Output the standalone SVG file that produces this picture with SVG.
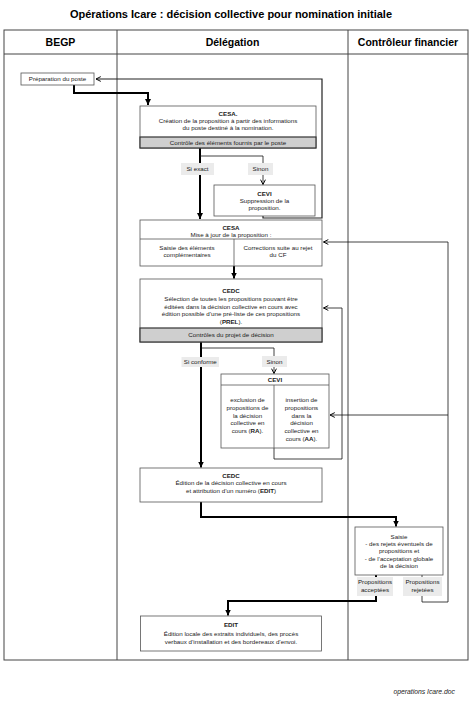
<svg xmlns="http://www.w3.org/2000/svg" width="472" height="705" viewBox="0 0 472 705">
<style>
text{font-family:"Liberation Sans",Arial,sans-serif;fill:#1a1a1a}
.t{font-size:6.2px;text-anchor:middle}
.b{font-weight:bold}
.h{font-size:10.5px;font-weight:bold;text-anchor:middle;fill:#000}
.ti{font-size:11px;font-weight:bold;text-anchor:middle;fill:#000}
.box{fill:#fff;stroke:#555;stroke-width:0.8}
.band{fill:#cfcfcf;stroke:#333;stroke-width:1.2}
.lbl{fill:#ebebeb;stroke:none}
.thick{fill:none;stroke:#000;stroke-width:2}
.thin{fill:none;stroke:#111;stroke-width:0.8}
.lane{fill:none;stroke:#444;stroke-width:1}
</style>
<defs>
<marker id="tri" viewBox="0 0 10 10" refX="10" refY="5" markerWidth="6" markerHeight="7" markerUnits="userSpaceOnUse" orient="auto"><path d="M0,0 L10,5 L0,10 z" fill="#000"/></marker>
<marker id="chev" viewBox="0 0 10 10" refX="9" refY="5" markerWidth="6" markerHeight="6" markerUnits="userSpaceOnUse" orient="auto"><path d="M1,1 L9,5 L1,9" fill="none" stroke="#000" stroke-width="1.6"/></marker>
</defs>
<rect width="472" height="705" fill="#fff"/>
<text x="231" y="17.5" class="ti">Opérations Icare : décision collective pour nomination initiale</text>
<g id="lanes">
<rect class="lane" x="4" y="30" width="464" height="630"/>
<line class="lane" x1="4" y1="54" x2="468" y2="54"/>
<line class="lane" x1="117" y1="30" x2="117" y2="660"/>
<line class="lane" x1="348" y1="30" x2="348" y2="660"/>
<text x="60.5" y="46" class="h">BEGP</text>
<text x="232.5" y="46" class="h">Délégation</text>
<text x="408" y="46" class="h">Contrôleur financier</text>
</g>
<g id="connectors">
<path class="thick" d="M74,85 V93 H148 V105" marker-end="url(#tri)"/>
<path class="thick" d="M200,148 V219" marker-end="url(#tri)"/>
<path class="thin" d="M200,156 H263 V184.5" marker-end="url(#chev)"/>
<path d="M263,216 V218 H322 V79 H96" fill="none" stroke="#222" stroke-width="1.2" marker-end="url(#chev)"/>
<path class="thick" d="M234,266 V278.5" marker-end="url(#tri)"/>
<path class="thick" d="M201,342 V467.5" marker-end="url(#tri)"/>
<path class="thin" d="M201,348 H274 V373.5" marker-end="url(#chev)"/>
<path class="thin" d="M274,448 V459 H342 V308 H323.5" marker-end="url(#chev)"/>
<path class="thick" d="M201,502 V517 H396 V526.5" marker-end="url(#tri)"/>
<path class="thick" d="M376,575 V601 H228 V615.5" marker-end="url(#tri)"/>
<path class="thin" d="M422,575 V602 H448 V242 H323.5" marker-end="url(#chev)"/>
<path class="thin" d="M448,415 H330" marker-end="url(#chev)"/>
</g>
<g id="prep">
<rect class="box" x="21" y="73" width="73" height="12"/>
<text x="57.5" y="81.2" class="t">Préparation du poste</text>
</g>
<g id="cesa1">
<rect class="box" x="140" y="106" width="176" height="42"/>
<rect class="band" x="140" y="137" width="176" height="11"/>
<text x="228" y="116" class="t b">CESA.</text>
<text x="228" y="123.2" class="t">Création de la proposition à  partir des informations</text>
<text x="228" y="130.4" class="t">du poste destiné à la nomination.</text>
<text x="228" y="144.6" class="t">Contrôle des éléments fournis par le poste</text>
</g>
<g id="lbl-si-exact">
<rect class="lbl" x="181" y="163" width="33" height="12"/>
<text x="197.5" y="171.2" class="t">Si exact</text>
</g>
<g id="lbl-sinon1">
<rect class="lbl" x="248" y="163" width="25" height="12"/>
<text x="260.5" y="171.2" class="t">Sinon</text>
</g>
<g id="cevi1">
<rect class="box" x="214" y="185" width="101" height="31"/>
<text x="264.5" y="196" class="t b">CEVI</text>
<text x="264.5" y="203.2" class="t">Suppression de la</text>
<text x="264.5" y="210.4" class="t">proposition.</text>
</g>
<g id="cesa2">
<rect class="box" x="140" y="220" width="182" height="46"/>
<line class="box" x1="140" y1="239" x2="322" y2="239"/>
<line class="box" x1="234" y1="239" x2="234" y2="266"/>
<text x="231" y="229.5" class="t b">CESA</text>
<text x="231" y="236.5" class="t">Mise à jour de la  proposition :</text>
<text x="187" y="250" class="t">Saisie des éléments</text>
<text x="187" y="257.2" class="t">complémentaires</text>
<text x="278" y="250" class="t">Corrections suite au rejet</text>
<text x="278" y="257.2" class="t">du CF</text>
</g>
<g id="cedc1">
<rect class="box" x="140" y="279" width="182" height="63"/>
<rect class="band" x="140" y="328" width="182" height="14"/>
<text x="231" y="292.5" class="t b">CEDC</text>
<text x="231" y="301" class="t">Sélection de toutes les propositions pouvant être</text>
<text x="231" y="308.5" class="t">éditées dans la décision collective en cours avec</text>
<text x="231" y="316" class="t">édition possible d’une pré-liste de ces  propositions</text>
<text x="231" y="323.5" class="t">(<tspan class="b">PREL</tspan>).</text>
<text x="231" y="336.8" class="t">Contrôles du projet de décision</text>
</g>
<g id="lbl-si-conforme">
<rect class="lbl" x="181.5" y="357" width="37.5" height="10"/>
<text x="200.3" y="364.2" class="t">Si conforme</text>
</g>
<g id="lbl-sinon2">
<rect class="lbl" x="262" y="356" width="25" height="11"/>
<text x="274.5" y="364.2" class="t">Sinon</text>
</g>
<g id="cevi2">
<rect class="box" x="221" y="374" width="108" height="74"/>
<line class="box" x1="221" y1="385" x2="329" y2="385"/>
<line class="box" x1="274" y1="385" x2="274" y2="448"/>
<text x="275" y="382" class="t b">CEVI</text>
<text x="247.5" y="402" class="t">exclusion de</text>
<text x="247.5" y="409.8" class="t">propositions de</text>
<text x="247.5" y="417.6" class="t">la décision</text>
<text x="247.5" y="425.4" class="t">collective en</text>
<text x="247.5" y="433.2" class="t">cours (<tspan class="b">RA</tspan>).</text>
<text x="301.5" y="402" class="t">insertion de</text>
<text x="301.5" y="409.8" class="t">propositions</text>
<text x="301.5" y="417.6" class="t">dans la</text>
<text x="301.5" y="425.4" class="t">décision</text>
<text x="301.5" y="433.2" class="t">collective en</text>
<text x="301.5" y="441" class="t">cours (<tspan class="b">AA</tspan>).</text>
</g>
<g id="cedc2">
<rect class="box" x="140" y="468" width="182" height="34"/>
<text x="231" y="477.5" class="t b">CEDC</text>
<text x="231" y="485" class="t">Édition de la décision  collective en cours</text>
<text x="231" y="492.5" class="t">et attribution d’un  numéro (<tspan class="b">EDIT</tspan>)</text>
</g>
<g id="saisie">
<rect class="box" x="355" y="527" width="88" height="48"/>
<text x="399" y="539" class="t">Saisie</text>
<text x="399" y="546.2" class="t">- des rejets éventuels de</text>
<text x="399" y="553.4" class="t">propositions et</text>
<text x="399" y="560.6" class="t">- de l’acceptation globale</text>
<text x="399" y="568" class="t">de la décision</text>
</g>
<g id="lbl-acceptees">
<rect class="lbl" x="357" y="577" width="36" height="19"/>
<text x="375" y="584.2" class="t">Propositions</text>
<text x="375" y="591.6" class="t">acceptées</text>
</g>
<g id="lbl-rejetees">
<rect class="lbl" x="403" y="577" width="39" height="19"/>
<text x="422.5" y="584.2" class="t">Propositions</text>
<text x="422.5" y="591.6" class="t">rejetées</text>
</g>
<g id="edit">
<rect class="box" x="140.5" y="616" width="181" height="35"/>
<text x="231" y="627" class="t b">EDIT</text>
<text x="231" y="636" class="t">Édition locale des extraits individuels, des procès</text>
<text x="231" y="644" class="t">verbaux d’installation et des bordereaux d’envoi.</text>
</g>
<text x="455" y="694" class="t" style="text-anchor:end;font-style:italic;font-size:6.8px">operations Icare.doc</text>
</svg>
